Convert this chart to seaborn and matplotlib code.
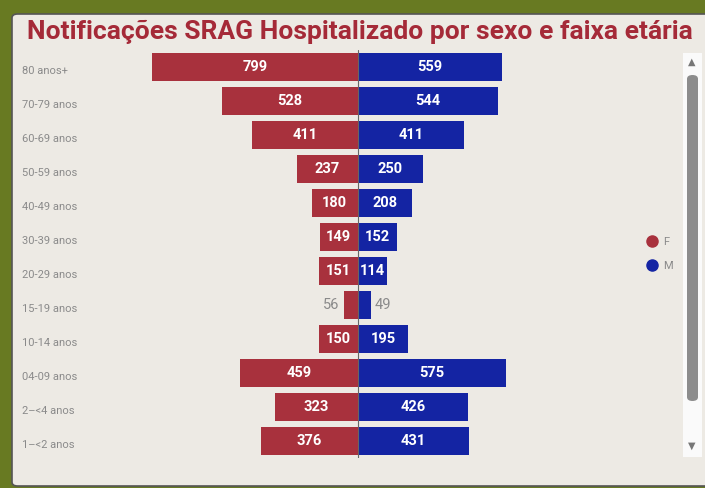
import pandas as pd
import matplotlib.pyplot as plt
import seaborn as sns
from matplotlib.patches import FancyBboxPatch
from matplotlib.lines import Line2D
from matplotlib import transforms

# dados
faixas = ['80 anos+', '70-79 anos', '60-69 anos', '50-59 anos', '40-49 anos',
          '30-39 anos', '20-29 anos', '15-19 anos', '10-14 anos', '04-09 anos',
          '2–<4 anos', '1–<2 anos']
fem = [799, 528, 411, 237, 180, 149, 151, 56, 150, 459, 323, 376]
masc = [559, 544, 411, 250, 208, 152, 114, 49, 195, 575, 426, 431]

cor_f = '#A8313D'
cor_m = '#1424A3'
fundo = '#EDEAE4'
verde = '#687A22'

df = pd.concat([
    pd.DataFrame({'faixa': faixas, 'valor': [-v for v in fem], 'sexo': 'F'}),
    pd.DataFrame({'faixa': faixas, 'valor': masc, 'sexo': 'M'}),
])

sns.set_style('white')
plt.rcParams['font.family'] = ['Roboto', 'DejaVu Sans']

fig = plt.figure(figsize=(7.05, 4.88), dpi=100, facecolor=verde)

# painel de fundo
painel = FancyBboxPatch((12 / 705, 2 / 488), 700 / 705, 472 / 488,
                        boxstyle='round,pad=0,rounding_size=0.008',
                        transform=fig.transFigure, facecolor=fundo,
                        edgecolor='#555555', linewidth=1.2, zorder=-2)
fig.patches.append(painel)

fig.text(360 / 705, 1 - 32 / 488, 'Notificações SRAG Hospitalizado por sexo e faixa etária',
         ha='center', va='center', fontsize=19, fontweight='bold', color='#A52A38')

ax = fig.add_axes([20 / 705, 30 / 488, 660 / 705, 408 / 488])
ax.set_facecolor('none')
ax.set_zorder(3)
sns.barplot(data=df, x='valor', y='faixa', hue='sexo', dodge=False, orient='h',
            palette={'F': cor_f, 'M': cor_m}, width=0.82, saturation=1,
            linewidth=0, legend=False, ax=ax)
ax.set_xlim(-1310, 1248)
ax.axvline(0, color='#666666', lw=0.8, zorder=5)
for s in ax.spines.values():
    s.set_visible(False)
ax.set_xticks([])
ax.set_yticks([])
ax.set_xlabel('')
ax.set_ylabel('')

trans = transforms.blended_transform_factory(ax.transAxes, ax.transData)
for i, (fx, f, m) in enumerate(zip(faixas, fem, masc)):
    ax.text(0.003, i + 0.12, fx, transform=trans, ha='left', va='center',
            fontsize=8, color='#8A8A8A')
    if f >= 100:
        ax.text(-f / 2, i, str(f), ha='center', va='center', fontsize=10.5,
                color='white', fontweight='bold')
    else:
        ax.text(-f - 15, i, str(f), ha='right', va='center', fontsize=10.5,
                color='#8A8A8A')
    if m >= 100:
        ax.text(m / 2, i, str(m), ha='center', va='center', fontsize=10.5,
                color='white', fontweight='bold')
    else:
        ax.text(m + 15, i, str(m), ha='left', va='center', fontsize=10.5,
                color='#8A8A8A')

# legenda
handles = [Line2D([], [], marker='o', ls='', color=cor_f, markersize=8, label='F'),
           Line2D([], [], marker='o', ls='', color=cor_m, markersize=8, label='M')]
leg = fig.legend(handles=handles, loc='center left', frameon=False,
                 bbox_to_anchor=(636 / 705, 1 - 254 / 488), handletextpad=0.5,
                 labelspacing=1.3, fontsize=8, handlelength=1)
for t in leg.get_texts():
    t.set_color('#8A8A8A')

# barra de rolagem
fig.patches.append(FancyBboxPatch((683 / 705, 1 - 457 / 488), 19 / 705, 404 / 488,
                                  boxstyle='square,pad=0', transform=fig.transFigure,
                                  facecolor='#FAFAFA', edgecolor='none', zorder=1))
fig.patches.append(FancyBboxPatch((687 / 705, 1 - 401 / 488), 11 / 705, 326 / 488,
                                  boxstyle='round,pad=0,rounding_size=0.008',
                                  transform=fig.transFigure, facecolor='#8C8C8C',
                                  edgecolor='none', zorder=2))
fig.text(692 / 705, 1 - 62 / 488, '▲', ha='center', va='center', fontsize=7,
         color='#777777', family=['DejaVu Sans'])
fig.text(692 / 705, 1 - 446 / 488, '▼', ha='center', va='center', fontsize=7,
         color='#777777', family=['DejaVu Sans'])

fig.savefig('out.png', dpi=100, facecolor=verde)
